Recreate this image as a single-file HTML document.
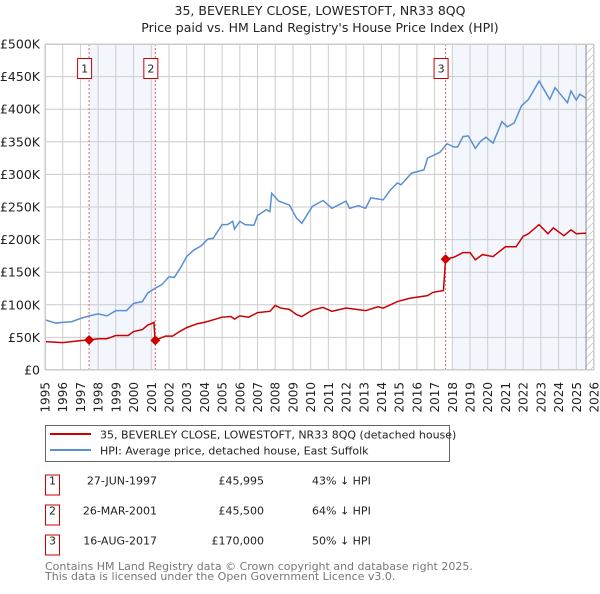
<!DOCTYPE html>
<html><head><meta charset="utf-8"><style>
body{margin:0;background:#fff;font-family:"DejaVu Sans","Liberation Sans",sans-serif;}
svg text{font-family:"DejaVu Sans","Liberation Sans",sans-serif;}
</style></head><body>
<svg id="chart" width="600" height="590" viewBox="0 0 600 590" xmlns="http://www.w3.org/2000/svg">
<defs>
<pattern id="hatch" patternUnits="userSpaceOnUse" width="8" height="8"><path d="M0 8 L8 0" stroke="#ccc" stroke-width="0.8"/></pattern>
</defs>
<text x="320" y="15" text-anchor="middle" font-size="12.5" fill="#222">35, BEVERLEY CLOSE, LOWESTOFT, NR33 8QQ</text>
<text x="320" y="32" text-anchor="middle" font-size="12.5" fill="#222">Price paid vs. HM Land Registry's House Price Index (HPI)</text>
<g id="plot"></g>
<g>
<rect x="45.5" y="425.5" width="404" height="36" fill="#fff" stroke="#666"/>
<line x1="50" y1="434" x2="91" y2="434" stroke="#cc0000" stroke-width="2"/>
<text x="100" y="438.5" font-size="11" fill="#222">35, BEVERLEY CLOSE, LOWESTOFT, NR33 8QQ (detached house)</text>
<line x1="50" y1="450" x2="91" y2="450" stroke="#5b8fd4" stroke-width="2"/>
<text x="100" y="454.5" font-size="11" fill="#222">HPI: Average price, detached house, East Suffolk</text>
</g>
<g id="table"></g>
<text x="45" y="570" font-size="11" fill="#777">Contains HM Land Registry data © Crown copyright and database right 2025.</text>
<text x="45" y="580" font-size="11" fill="#777">This data is licensed under the Open Government Licence v3.0.</text>
</svg>
<script>
const yTicks=[0,50,100,150,200,250,300,350,400,450,500];
const yTickLabels=["£0","£50K","£100K","£150K","£200K","£250K","£300K","£350K","£400K","£450K","£500K"];
const years=[1995,1996,1997,1998,1999,2000,2001,2002,2003,2004,2005,2006,2007,2008,2009,2010,2011,2012,2013,2014,2015,2016,2017,2018,2019,2020,2021,2022,2023,2024,2025,2026];
const hpiT=[1995.0,1995.6,1996.0,1996.5,1997.0,1997.5,1998.0,1998.5,1999.0,1999.6,2000.0,2000.5,2000.8,2001.2,2001.6,2002.0,2002.3,2002.7,2003.0,2003.4,2003.8,2004.2,2004.5,2005.0,2005.3,2005.6,2005.7,2006.0,2006.3,2006.8,2007.0,2007.5,2007.7,2007.8,2008.2,2008.8,2009.2,2009.5,2010.1,2010.7,2011.2,2012.0,2012.2,2012.7,2013.1,2013.4,2014.1,2014.5,2014.9,2015.1,2015.7,2016.4,2016.6,2017.3,2017.7,2018.1,2018.3,2018.6,2018.9,2019.3,2019.6,2019.9,2020.3,2020.8,2021.1,2021.5,2021.9,2022.3,2022.9,2023.5,2023.8,2024.1,2024.5,2024.7,2025.0,2025.2,2025.55];
const hpiV=[77,72,73,74,79,83,86,83,91,91,102,105,118,125,131,143,142,159,174,184,190,201,202,223,223,228,216,228,223,222,237,246,243,271,259,253,233,225,251,260,248,259,248,252,248,264,261,276,287,284,302,307,325,334,347,342,342,358,359,340,351,357,348,381,373,379,405,415,443,415,433,423,410,428,414,423,417];
const ppT=[1995.0,1996.0,1997.0,1997.45,1998.0,1998.5,1999.0,1999.7,2000.0,2000.5,2000.8,2001.0,2001.15,2001.22,2001.8,2002.2,2002.6,2003.0,2003.6,2004.0,2004.5,2005.0,2005.5,2005.7,2006.0,2006.5,2007.0,2007.7,2008.0,2008.3,2008.8,2009.2,2009.5,2010.1,2010.7,2011.2,2012.0,2013.1,2013.8,2014.1,2014.9,2015.6,2016.6,2016.9,2017.5,2017.62,2018.1,2018.6,2019.0,2019.3,2019.7,2020.3,2021.0,2021.6,2022.0,2022.3,2022.9,2023.4,2023.7,2024.3,2024.7,2025.0,2025.55];
const ppV=[43.5,42,45,46,48,48,53,53,59,62,69,71,73,45.5,52,52,59,65,71,73,77,81,82,78,83,81,88,90,99,95,93,85,82,92,96,90,95,91,97,95,105,110,114,119,122,170,173,180,180,169,177,174,189,189,205,209,223,209,218,206,215,209,210];
const saleLabels=["1","2","3"];
const saleT=[1997.49,2001.23,2017.62];
const saleV=[45.995,45.5,170];
const saleDates=["27-JUN-1997","26-MAR-2001","16-AUG-2017"];
const salePrices=["£45,995","£45,500","£170,000"];
const saleHpi=["43% ↓ HPI","64% ↓ HPI","50% ↓ HPI"];
const shadeT=[[1997.49,2001.23],[2018.0,2025.55]];
const dataEnd=2025.55;

const X0=45,X1=594,Y0=370,Y1=44;
const x=t=>X0+(t-1995)/31*(X1-X0);
const y=v=>Y0-v/500*(Y0-Y1);
const NS="http://www.w3.org/2000/svg";
const plot=document.getElementById('plot');
function mk(tag,attrs,parent){const e=document.createElementNS(NS,tag);for(const k in attrs)e.setAttribute(k,attrs[k]);(parent||plot).appendChild(e);return e;}

mk('rect',{x:X0,y:Y1,width:X1-X0,height:Y0-Y1,fill:'#fff'});
shadeT.forEach(s=>{const r=mk('rect',{x:x(s[0]),y:Y1,width:x(s[1])-x(s[0]),height:Y0-Y1,fill:'#eef3fc',opacity:0.7});

});
const h=mk('rect',{x:x(dataEnd),y:Y1,width:X1-x(dataEnd),height:Y0-Y1,fill:'url(#hatch)'});


yTicks.forEach((v,i)=>{mk('line',{x1:X0,x2:X1,y1:y(v),y2:y(v),stroke:'#ccc','stroke-width':1});
const t=mk('text',{x:40,y:y(v)+4.5,'text-anchor':'end','font-size':12.5,fill:'#222'});t.textContent=yTickLabels[i];

});
years.forEach(yr=>{mk('line',{x1:x(yr),x2:x(yr),y1:Y1,y2:Y0,stroke:'#ccc','stroke-width':1});
const t=mk('text',{x:0,y:0,'text-anchor':'end','font-size':12,fill:'#222',transform:`translate(${x(yr)+4.5},382) rotate(-90)`});t.textContent=yr;

});
mk('line',{x1:x(dataEnd),x2:x(dataEnd),y1:Y1,y2:Y0,stroke:'#888','stroke-width':1});
saleT.forEach((t,i)=>{const l=mk('line',{x1:x(t),x2:x(t),y1:Y1,y2:Y0,stroke:'#e06666','stroke-width':1,'stroke-dasharray':'2,2'});

});
const hp=mk('polyline',{points:hpiT.map((t,i)=>x(t)+','+y(hpiV[i])).join(' '),fill:'none',stroke:'#5b8fd4','stroke-width':1.5});


const pp=mk('polyline',{points:ppT.map((t,i)=>x(t)+','+y(ppV[i])).join(' '),fill:'none',stroke:'#cc0000','stroke-width':1.5});


saleT.forEach((t,i)=>{const cx=x(t),cy=y(saleV[i]);
const d=mk('path',{d:`M${cx-5} ${cy} L${cx} ${cy-5} L${cx+5} ${cy} L${cx} ${cy+5}Z`,fill:'#cc0000'});


const g=mk('g',{});


mk('rect',{x:cx-11.5,y:58.5,width:14,height:20,fill:'#fff',stroke:'#cc0000'},g);
const tx=mk('text',{x:cx-4.5,y:72.5,'text-anchor':'middle','font-size':11,fill:'#222'},g);tx.textContent=saleLabels[i];});
mk('rect',{x:X0+0.5,y:Y1+0.5,width:X1-X0-1,height:Y0-Y1-1,fill:'none',stroke:'#ccc'});

const tb=document.getElementById('table');
saleLabels.forEach((s,i)=>{const cy=485+i*30;
const g=mk('g',{},tb);


mk('rect',{x:45.5,y:cy-10,width:14,height:20,fill:'#fff',stroke:'#cc0000'},g);
const a=mk('text',{x:52.5,y:cy-0.5,'text-anchor':'middle','font-size':11,fill:'#222'},g);a.textContent=s;
const b=mk('text',{x:157,y:cy-0.5,'text-anchor':'end','font-size':11,fill:'#222'},g);b.textContent=saleDates[i];
const c=mk('text',{x:264,y:cy-0.5,'text-anchor':'end','font-size':11,fill:'#222'},g);c.textContent=salePrices[i];
const d=mk('text',{x:312,y:cy-0.5,'font-size':11,fill:'#222'},g);d.textContent=saleHpi[i];});
</script>
</body></html>
